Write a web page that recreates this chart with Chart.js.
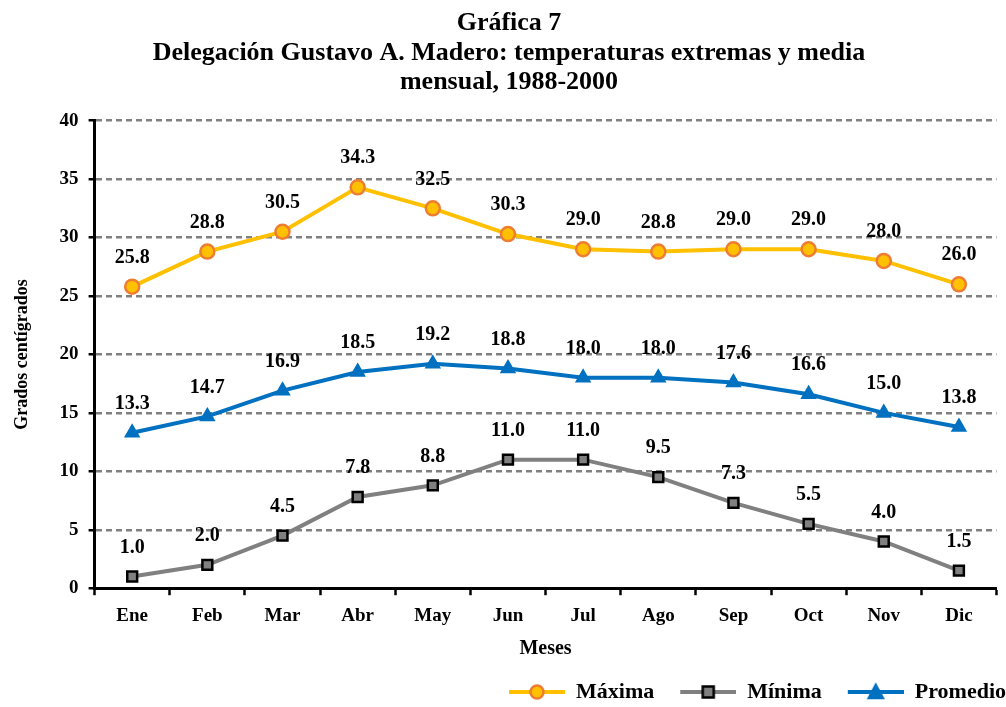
<!DOCTYPE html>
<html>
<head>
<meta charset="utf-8">
<script src="https://cdn.jsdelivr.net/npm/chart.js@4/dist/chart.umd.min.js"></script>
<style>
  body { margin: 0; background: #fff; }
  #wrap { width: 1006px; height: 707px; }
</style>
</head>
<body>
<div id="wrap"><canvas id="chart"></canvas></div>
<script>
// data
const months = ['Ene', 'Feb', 'Mar', 'Abr', 'May', 'Jun', 'Jul', 'Ago', 'Sep', 'Oct', 'Nov', 'Dic'];
const maxima = [25.8, 28.8, 30.5, 34.3, 32.5, 30.3, 29.0, 28.8, 29.0, 29.0, 28.0, 26.0];
const minima = [1.0, 2.0, 4.5, 7.8, 8.8, 11.0, 11.0, 9.5, 7.3, 5.5, 4.0, 1.5];
const promedio = [13.3, 14.7, 16.9, 18.5, 19.2, 18.8, 18.0, 18.0, 17.6, 16.6, 15.0, 13.8];
const yTicks = [0, 5, 10, 15, 20, 25, 30, 35, 40];

const FONT = '"Liberation Serif", "DejaVu Serif", serif';
const GAP = 26; // blank space left of each legend symbol, acts as the item gap

// legend symbol: line with the marker in the middle
function legendSymbol(lineColor, style, fill, stroke) {
    const c = document.createElement('canvas');
    c.width = GAP + 56;
    c.height = 20;
    const ctx = c.getContext('2d');
    const mid = GAP + 28;
    ctx.strokeStyle = lineColor;
    ctx.lineWidth = 4;
    ctx.beginPath();
    ctx.moveTo(GAP, 10);
    ctx.lineTo(GAP + 56, 10);
    ctx.stroke();
    ctx.fillStyle = fill;
    ctx.strokeStyle = stroke;
    ctx.lineWidth = 2.5;
    ctx.beginPath();
    if (style === 'circle') {
        ctx.arc(mid, 10, 6.5, 0, Math.PI * 2);
    } else if (style === 'rect') {
        ctx.rect(mid - 5.5, 4.5, 11, 11);
    } else {
        ctx.moveTo(mid, 3);
        ctx.lineTo(mid + 7, 16);
        ctx.lineTo(mid - 7, 16);
        ctx.closePath();
    }
    ctx.fill();
    ctx.stroke();
    return c;
}

// value labels above every point
const valueLabels = {
    id: 'valueLabels',
    afterDatasetsDraw(chart) {
        const ctx = chart.ctx;
        ctx.save();
        ctx.font = 'bold 20px ' + FONT;
        ctx.fillStyle = '#000';
        ctx.textAlign = 'center';
        ctx.textBaseline = 'middle';
        chart.data.datasets.forEach((ds, i) => {
            chart.getDatasetMeta(i).data.forEach((pt, j) => {
                ctx.fillText(ds.data[j].toFixed(1), pt.x, pt.y - 29);
            });
        });
        ctx.restore();
    }
};

const datasets = [
    {
        label: 'Máxima',
        data: maxima,
        borderColor: '#FFC000',
        backgroundColor: '#FFC000',
        pointStyle: 'circle',
        pointBackgroundColor: '#FFC000',
        pointBorderColor: '#ED7D31',
        symbol: legendSymbol('#FFC000', 'circle', '#FFC000', '#ED7D31')
    },
    {
        label: 'Mínima',
        data: minima,
        borderColor: '#808080',
        backgroundColor: '#808080',
        pointStyle: 'rect',
        pointBackgroundColor: '#808080',
        pointBorderColor: '#000000',
        symbol: legendSymbol('#808080', 'rect', '#808080', '#000000')
    },
    {
        label: 'Promedio',
        data: promedio,
        borderColor: '#0070C0',
        backgroundColor: '#0070C0',
        pointStyle: 'triangle',
        pointBackgroundColor: '#0070C0',
        pointBorderColor: '#0070C0',
        symbol: legendSymbol('#0070C0', 'triangle', '#0070C0', '#0070C0')
    }
];

datasets.forEach(ds => {
    ds.borderWidth = 4;
    ds.pointRadius = 7;
    ds.pointBorderWidth = 2.5;
    ds.tension = 0;
});

new Chart(document.getElementById('chart'), {
    type: 'line',
    data: { labels: months, datasets },
    options: {
        responsive: true,
        maintainAspectRatio: false,
        animation: false,
        layout: { padding: { left: 12, right: 0, top: 4, bottom: 4 } },
        plugins: {
            title: {
                display: true,
                text: ['Gráfica 7', 'Delegación Gustavo A. Madero: temperaturas extremas y media', 'mensual, 1988-2000'],
                color: '#000',
                font: { family: FONT, size: 26, weight: 'bold', lineHeight: 1.15 },
                padding: { top: 4, bottom: 23 }
            },
            legend: {
                position: 'bottom',
                align: 'end',
                maxHeight: 22,
                labels: {
                    usePointStyle: true,
                    pointStyleWidth: GAP + 56,
                    color: '#000',
                    font: { family: FONT, size: 22, weight: 'bold' },
                    padding: 0,
                    generateLabels(chart) {
                        return chart.data.datasets.map((ds, i) => ({
                            text: ds.label,
                            pointStyle: ds.symbol,
                            fillStyle: ds.borderColor,
                            strokeStyle: ds.borderColor,
                            lineWidth: 0,
                            hidden: false,
                            datasetIndex: i
                        }));
                    }
                }
            },
            tooltip: { enabled: false }
        },
        scales: {
            x: {
                offset: true,
                grid: {
                    offset: true,
                    drawOnChartArea: false,
                    drawTicks: true,
                    tickLength: 7,
                    tickColor: '#000',
                    tickWidth: 2.5
                },
                border: { display: true, color: '#000', width: 3 },
                ticks: {
                    color: '#000',
                    font: { family: FONT, size: 19, weight: 'bold' },
                    padding: 9
                },
                title: {
                    display: true,
                    text: 'Meses',
                    color: '#000',
                    font: { family: FONT, size: 20, weight: 'bold' },
                    padding: { top: 1, bottom: 20 }
                }
            },
            y: {
                min: 0,
                max: 40,
                afterBuildTicks(scale) {
                    scale.ticks = yTicks.map(v => ({ value: v }));
                },
                grid: {
                    color: ctx => ctx.tick && ctx.tick.value === 0 ? 'rgba(0,0,0,0)' : '#808080',
                    lineWidth: 2.5,
                    drawTicks: true,
                    tickLength: 6,
                    tickColor: '#000',
                    tickWidth: 2.5,
                    tickBorderDash: []
                },
                border: { display: true, color: '#000', width: 3, dash: [6, 4] },
                ticks: {
                    color: '#000',
                    font: { family: FONT, size: 19, weight: 'bold' },
                    padding: 10
                },
                title: {
                    display: true,
                    text: 'Grados centígrados',
                    color: '#000',
                    font: { family: FONT, size: 18, weight: 'bold' },
                    padding: { top: 0, bottom: 16 }
                }
            }
        }
    },
    plugins: [valueLabels]
});
</script>
</body>
</html>
